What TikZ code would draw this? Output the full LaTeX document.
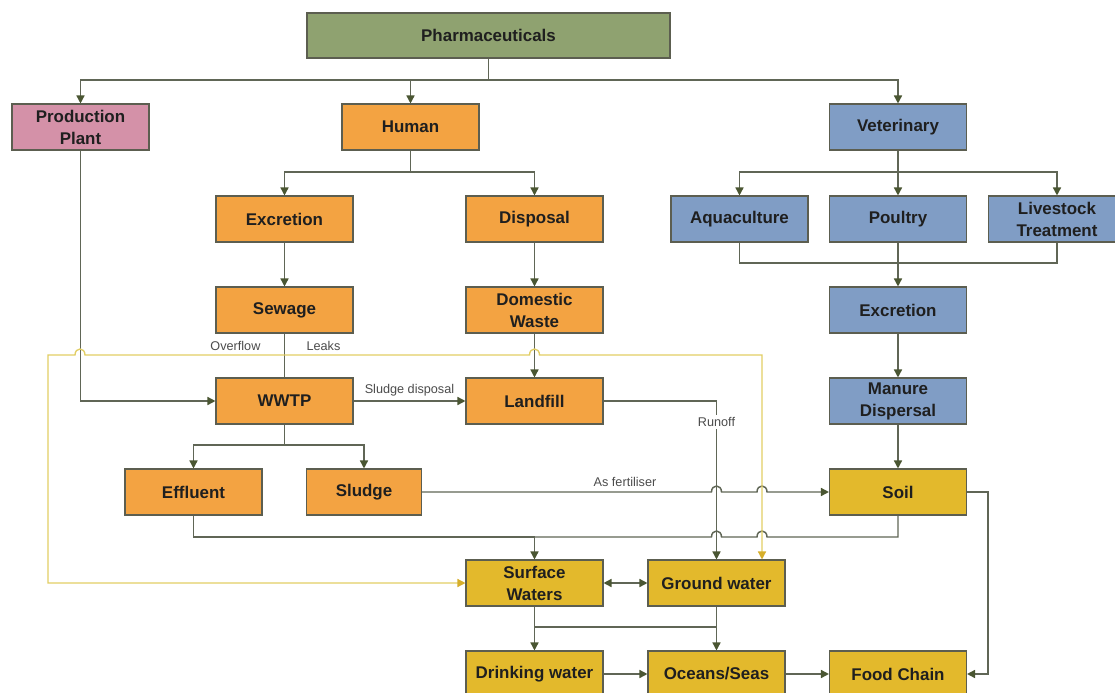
\documentclass[tikz,border=0pt]{standalone}
\usepackage{fontspec}
\setmainfont{Liberation Sans}
\usetikzlibrary{arrows.meta}

\definecolor{pharm}{RGB}{143,162,112}
\definecolor{plant}{RGB}{212,145,168}
\definecolor{human}{RGB}{243,163,66}
\definecolor{vet}{RGB}{128,157,197}
\definecolor{water}{RGB}{227,185,44}
\definecolor{edge}{RGB}{92,94,80}
\definecolor{link}{RGB}{96,102,86}
\definecolor{tip}{RGB}{74,86,50}
\definecolor{leak}{RGB}{226,206,100}
\definecolor{leaktip}{RGB}{214,174,42}

\tikzset{
  box/.style={draw=edge, line width=0.8pt, minimum width=102.75pt, minimum height=34.5pt,
    inner sep=1pt, align=center, text=black!88,
    font=\bfseries\fontsize{12.7}{16.5}\selectfont},
  plain/.style={draw=link, line width=1.1pt},
  flow/.style={plain, -{Triangle[length=6pt,width=6pt,color=tip]}},
  twoway/.style={plain, {Triangle[length=6pt,width=6pt,color=tip]}-{Triangle[length=6pt,width=6pt,color=tip]}},
  leakline/.style={draw=leak, line width=1pt, -{Triangle[length=6pt,width=6pt,color=leaktip]}},
  tag/.style={font=\fontsize{9.5}{10}\selectfont, text=black!70, inner sep=1pt}
}

\begin{document}
\begin{tikzpicture}[x=0.75pt,y=-0.75pt]
\useasboundingbox (0,0) rectangle (1115,693);
\clip (0,0) rectangle (1115,693);
\fill[white] (0,0) rectangle (1115,693);

% ---- boxes ----
\node[box, fill=pharm, minimum width=272.25pt, minimum height=33.75pt] (ph) at (488.5,35.5) {Pharmaceuticals};

\node[box, fill=plant] (pp) at (80.5,127) {Production\\Plant};
\node[box, fill=human] (hu) at (410.5,127) {Human};
\node[box, fill=vet]   (ve) at (898,127) {Veterinary};

\node[box, fill=human] (ex) at (284.5,219) {Excretion};
\node[box, fill=human] (di) at (534.5,219) {Disposal};
\node[box, fill=vet]   (aq) at (739.5,219) {Aquaculture};
\node[box, fill=vet]   (po) at (898,219) {Poultry};
\node[box, fill=vet]   (li) at (1057,219) {Livestock\\Treatment};

\node[box, fill=human] (se) at (284.5,310) {Sewage};
\node[box, fill=human] (dw) at (534.5,310) {Domestic\\Waste};
\node[box, fill=vet]   (vx) at (898,310) {Excretion};

\node[box, fill=human] (ww) at (284.5,401) {WWTP};
\node[box, fill=human] (la) at (534.5,401) {Landfill};
\node[box, fill=vet]   (ma) at (898,401) {Manure\\Dispersal};

\node[box, fill=human] (ef) at (193.5,492) {Effluent};
\node[box, fill=human, minimum width=86.25pt] (sl) at (364,492) {Sludge};
\node[box, fill=water] (so) at (898,492) {Soil};

\node[box, fill=water] (sw) at (534.5,583) {Surface\\Waters};
\node[box, fill=water] (gw) at (716.5,583) {Ground water};

\node[box, fill=water] (dr) at (534.5,674) {Drinking water};
\node[box, fill=water] (oc) at (716.5,674) {Oceans/Seas};
\node[box, fill=water] (fc) at (898,674) {Food Chain};

% ---- junction points ----
\coordinate (b1) at (488.5,80);
\coordinate (b2) at (410.5,172);
\coordinate (b3) at (898,172);
\coordinate (b4) at (898,263);
\coordinate (b5) at (284.5,445);
\coordinate (b6) at (534.5,537);
\coordinate (b7) at (534.5,627);
\coordinate (b8) at (716.5,627);
\coordinate (src) at (284.5,355);
\coordinate (lk) at (762,355);
\coordinate (ro) at (716.5,401);

% ---- top level ----
\draw[plain] (ph.south) -- (b1);
\draw[flow] (b1) -| (pp.north);
\draw[flow] (b1) -| (hu.north);
\draw[flow] (b1) -| (ve.north);

% ---- human branch ----
\draw[plain] (hu.south) -- (b2);
\draw[flow] (b2) -| (ex.north);
\draw[flow] (b2) -| (di.north);
\draw[flow] (ex.south) -- (se.north);
\draw[flow] (di.south) -- (dw.north);
\draw[plain] (se.south) -- (ww.north);
\draw[flow] (dw.south) -- (la.north);
\draw[flow] (pp.south) |- (ww.west);
\draw[flow] (ww.east) -- node[tag, above=2pt] {Sludge disposal} (la.west);
\draw[flow] (la.east) -- (ro) -- (gw.north);
\node[tag, fill=white, inner sep=2pt] (runoff) at (716.5,422) {Runoff};
\draw[plain] (ww.south) -- (b5);
\draw[flow] (b5) -| (ef.north);
\draw[flow] (b5) -| (sl.north);

% ---- veterinary branch ----
\draw[plain] (ve.south) -- (b3);
\draw[flow] (b3) -| (aq.north);
\draw[flow] (b3) -| (po.north);
\draw[flow] (b3) -| (li.north);
\draw[plain] (aq.south) |- (b4) -| (li.south);
\draw[flow] (po.south) -- (vx.north);
\draw[flow] (vx.south) -- (ma.north);
\draw[flow] (ma.south) -- (so.north);

% ---- sludge spread on soil, hopping over the two verticals ----
\draw[flow] (sl.east) -- (711.5,492) .. controls (711.5,484) and (721.5,484) .. (721.5,492)
  -- (757,492) .. controls (757,484) and (767,484) .. (767,492) -- (so.west);
\node[tag] (fert) at (625,482) {As fertiliser};

% ---- into surface waters ----
\draw[plain] (ef.south) |- (b6);
\draw[plain] (so.south) -- (898,537) -- (767,537) .. controls (767,529) and (757,529) .. (757,537)
  -- (721.5,537) .. controls (721.5,529) and (711.5,529) .. (711.5,537) -- (b6);
\draw[flow] (b6) -- (sw.north);

% ---- sewer overflow and leaks ----
\node[tag, anchor=east] (ovf) at (262,346) {Overflow};
\node[tag, anchor=west] (lks) at (305,346) {Leaks};
\draw[leakline] (src) -- (85,355) .. controls (85,347) and (75,347) .. (75,355)
  -- (48,355) |- (sw.west);
\draw[leakline] (src) -- (529.5,355) .. controls (529.5,347) and (539.5,347) .. (539.5,355)
  -- (lk) -- (lk |- gw.north);

% ---- waters ----
\draw[twoway] (sw.east) -- (gw.west);
\draw[flow] (sw.south) -- (dr.north);
\draw[flow] (gw.south) -- (oc.north);
\draw[plain] (b7) -- (b8);
\draw[flow] (dr.east) -- (oc.west);
\draw[flow] (oc.east) -- (fc.west);
\draw[flow] (so.east) -- (988,492) |- (fc.east);
\end{tikzpicture}
\end{document}
